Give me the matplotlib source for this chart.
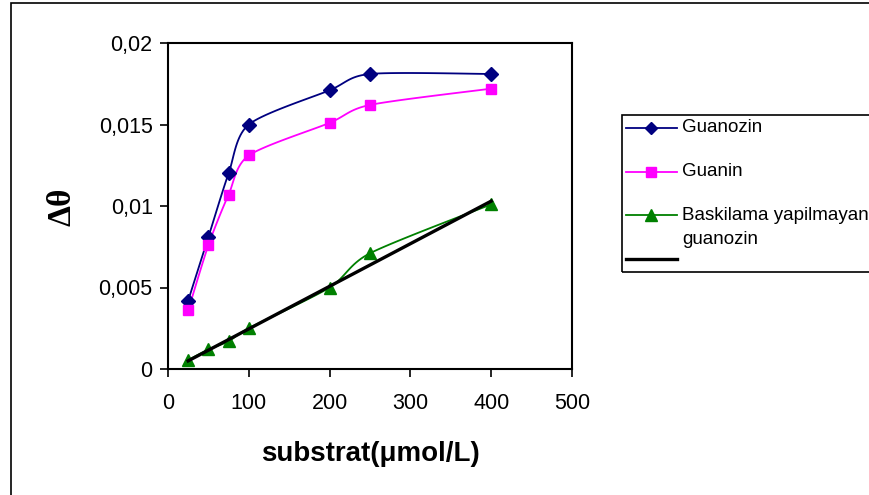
import numpy as np
import matplotlib
matplotlib.use("Agg")
import matplotlib.pyplot as plt
from matplotlib.lines import Line2D
from matplotlib.patches import Rectangle

plt.rcParams['font.family'] = ['Liberation Sans', 'DejaVu Sans']

# data
substrat = [25, 50, 75, 100, 200, 250, 400]
guanozin = [0.0042, 0.0081, 0.0120, 0.0150, 0.0171, 0.0181, 0.0181]
guanin = [0.0036, 0.0076, 0.0107, 0.0131, 0.0151, 0.0162, 0.0172]
baskilama = [0.00055, 0.0012, 0.0017, 0.0025, 0.0050, 0.0071, 0.0101]
trend_x = [25, 400]
trend_y = [0.0005, 0.0103]

x_ticks = [0, 100, 200, 300, 400, 500]
y_ticks = [0, 0.005, 0.01, 0.015, 0.02]
y_tick_labels = ['0', '0,005', '0,01', '0,015', '0,02']

W, H = 869, 495


def smooth(x, y, n=20, tension=0.4):
    # cardinal spline through the points (like Excel "smoothed line")
    x = np.asarray(x, float)
    y = np.asarray(y, float)
    px = np.concatenate([[x[0]], x, [x[-1]]])
    py = np.concatenate([[y[0]], y, [y[-1]]])
    xs, ys = [], []
    t = np.linspace(0, 1, n)
    h00 = 2 * t ** 3 - 3 * t ** 2 + 1
    h10 = t ** 3 - 2 * t ** 2 + t
    h01 = -2 * t ** 3 + 3 * t ** 2
    h11 = t ** 3 - t ** 2
    for i in range(1, len(px) - 2):
        for p, out in ((px, xs), (py, ys)):
            m1 = tension * (p[i + 1] - p[i - 1])
            m2 = tension * (p[i + 2] - p[i])
            out.extend(h00 * p[i] + h10 * m1 + h01 * p[i + 1] + h11 * m2)
    return xs, ys


def fx(px):
    return px / W


def fy(py):
    return 1 - py / H


fig = plt.figure(figsize=(W / 100, H / 100), dpi=100)
ax = fig.add_axes([fx(168), fy(369), fx(572) - fx(168), fy(43) - fy(369)])

series = [
    (guanozin, '#000080', 'D', 7),
    (guanin, '#FF00FF', 's', 7.5),
    (baskilama, '#008000', '^', 9),
]
for vals, col, mk, ms in series:
    sx, sy = smooth(substrat, vals)
    ax.plot(sx, sy, color=col, lw=1.3, zorder=2)
    ax.plot(substrat, vals, ls='none', marker=mk, ms=ms, color=col,
            markeredgecolor=col, zorder=3)

ax.plot(trend_x, trend_y, color='black', lw=2.4, zorder=4)

ax.set_xlim(0, 500)
ax.set_ylim(0, 0.02)
ax.set_xticks(x_ticks)
ax.set_xticklabels([str(v) for v in x_ticks])
ax.set_yticks(y_ticks)
ax.set_yticklabels(y_tick_labels)
ax.tick_params(axis='both', direction='out', length=6, width=1.2,
               labelsize=15.5, colors='black')
ax.tick_params(axis='x', pad=11)
ax.tick_params(axis='y', pad=5)
for s in ax.spines.values():
    s.set_linewidth(1.5)
    s.set_color('black')

ax.set_xlabel('substrat(\u03bcmol/L)', fontsize=20, fontweight='bold',
              labelpad=20)
fig.text(fx(62), fy(207), '\u0394\u03b8', rotation=90, ha='center',
         va='center', fontsize=24, fontweight='bold',
         family=['Liberation Serif', 'DejaVu Serif'])

# outer chart border
fig.patches.append(Rectangle((fx(11), fy(600)), 2, fy(3) - fy(600),
                             transform=fig.transFigure, fill=False,
                             edgecolor='black', lw=1.2))

# legend box (drawn by hand, Excel style)
fig.patches.append(Rectangle((fx(622), fy(272)), fx(300), fy(115) - fy(272),
                             transform=fig.transFigure, fill=False,
                             edgecolor='black', lw=1.2))
legend_rows = [
    (['Guanozin'], '#000080', 'D', 6.5, 128),
    (['Guanin'], '#FF00FF', 's', 7, 172),
    (['Baskilama yapilmayan', 'guanozin'], '#008000', '^', 8.5, 215),
]
for lines, col, mk, ms, yy in legend_rows:
    fig.lines.append(Line2D([fx(626), fx(677)], [fy(yy), fy(yy)],
                            transform=fig.transFigure, color=col, lw=1.3))
    fig.lines.append(Line2D([fx(651)], [fy(yy)], transform=fig.transFigure,
                            ls='none', marker=mk, ms=ms, color=col))
    for k, txt in enumerate(lines):
        fig.text(fx(682), fy(yy + 25 * k), txt, ha='left', va='center',
                 fontsize=13.5)
fig.lines.append(Line2D([fx(626), fx(677)], [fy(259), fy(259)],
                        transform=fig.transFigure, color='black', lw=2.4))

fig.savefig('out.png', dpi=100)
